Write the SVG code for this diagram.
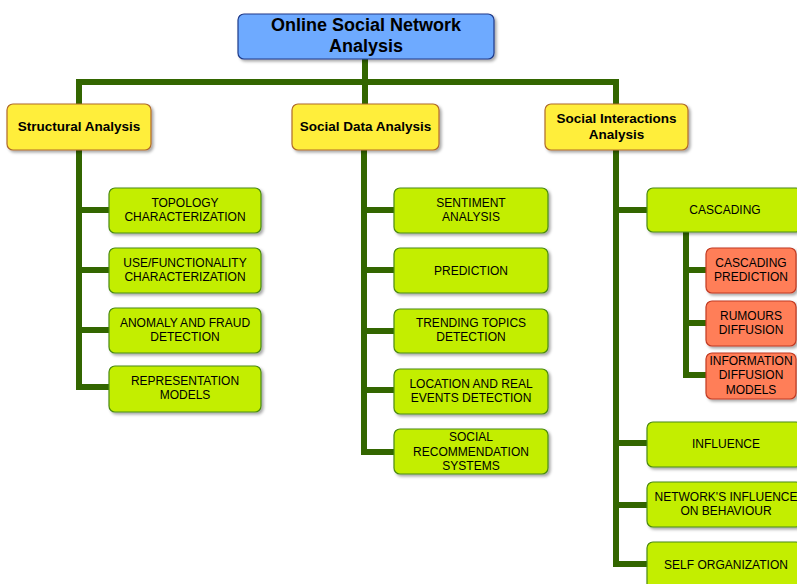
<svg xmlns="http://www.w3.org/2000/svg" width="797" height="584" viewBox="0 0 797 584">
<defs>
<filter id="sh" x="-10%" y="-10%" width="130%" height="140%">
<feDropShadow dx="2" dy="2" stdDeviation="1.5" flood-color="#000" flood-opacity="0.35"/>
</filter>
<style>
.ln{stroke:#336600;stroke-width:6;fill:none;stroke-linecap:butt}
.root{fill:#6eaaff;stroke:#1f3a8a;stroke-width:1.2;filter:url(#sh)}
.head{fill:#ffee3a;stroke:#b06a2a;stroke-width:1.2;filter:url(#sh)}
.leaf{fill:#c3ee00;stroke:#4a8a10;stroke-width:1.2;filter:url(#sh)}
.sub{fill:#ff7e58;stroke:#c23a22;stroke-width:1.2;filter:url(#sh)}
text{font-family:"Liberation Sans",Arial,sans-serif;text-anchor:middle;fill:#000}
.t1{font-size:18px;font-weight:bold}
.t2{font-size:13.5px;font-weight:bold}
.t3{font-size:12px}
</style>
</defs>
<rect width="797" height="584" fill="#fff"/>
<g id="connectors">
<path class="ln" d="M365 59V82M76 82H619M79 82V104M365 82V104M616 82V104"/>
<path class="ln" d="M79 150V390M79 210H109M79 270H109M79 330H109M79 387H109"/>
<path class="ln" d="M364 150V455M364 210H394M364 270H394M364 331H394M364 390H394M364 452H394"/>
<path class="ln" d="M616 150V567M616 210H647M616 443H647M616 505H647M616 564H647"/>
<path class="ln" d="M686 232V378M686 270H706M686 323H706M686 375H706"/>
</g>
<g id="root"><rect class="root" x="238" y="14" width="256" height="45" rx="6"/><text class="t1" x="366" y="31">Online Social Network</text><text class="t1" x="366" y="52">Analysis</text></g>
<g id="structural"><rect class="head" x="7" y="104" width="144" height="46" rx="6"/><text class="t2" x="79" y="131">Structural Analysis</text></g>
<g id="socialdata"><rect class="head" x="292" y="104" width="147" height="46" rx="6"/><text class="t2" x="365.5" y="131">Social Data Analysis</text></g>
<g id="socialinteractions"><rect class="head" x="545" y="104" width="143" height="46" rx="6"/><text class="t2" x="616.5" y="123">Social Interactions</text><text class="t2" x="616.5" y="138.5">Analysis</text></g>
<g id="topology"><rect class="leaf" x="109" y="188" width="152" height="45" rx="6"/><text class="t3" x="185" y="206.5">TOPOLOGY</text><text class="t3" x="185" y="220.5">CHARACTERIZATION</text></g>
<g id="usefunc"><rect class="leaf" x="109" y="248" width="152" height="45" rx="6"/><text class="t3" x="185" y="266.5">USE/FUNCTIONALITY</text><text class="t3" x="185" y="280.5">CHARACTERIZATION</text></g>
<g id="anomaly"><rect class="leaf" x="109" y="308" width="152" height="45" rx="6"/><text class="t3" x="185" y="326.5">ANOMALY AND FRAUD</text><text class="t3" x="185" y="340.5">DETECTION</text></g>
<g id="representation"><rect class="leaf" x="109" y="366" width="152" height="46" rx="6"/><text class="t3" x="185" y="384.5">REPRESENTATION</text><text class="t3" x="185" y="398.5">MODELS</text></g>
<g id="sentiment"><rect class="leaf" x="394" y="188" width="154" height="45" rx="6"/><text class="t3" x="471" y="206.5">SENTIMENT</text><text class="t3" x="471" y="220.5">ANALYSIS</text></g>
<g id="prediction"><rect class="leaf" x="394" y="248" width="154" height="45" rx="6"/><text class="t3" x="471" y="274.5">PREDICTION</text></g>
<g id="trending"><rect class="leaf" x="394" y="309" width="154" height="44" rx="6"/><text class="t3" x="471" y="327">TRENDING TOPICS</text><text class="t3" x="471" y="341">DETECTION</text></g>
<g id="location"><rect class="leaf" x="394" y="369" width="154" height="45" rx="6"/><text class="t3" x="471" y="387.5">LOCATION AND REAL</text><text class="t3" x="471" y="401.5">EVENTS DETECTION</text></g>
<g id="socialrec"><rect class="leaf" x="394" y="429" width="154" height="45" rx="6"/><text class="t3" x="471" y="441">SOCIAL</text><text class="t3" x="471" y="455.5">RECOMMENDATION</text><text class="t3" x="471" y="470">SYSTEMS</text></g>
<g id="cascading"><rect class="leaf" x="647" y="188" width="155" height="44" rx="6"/><text class="t3" x="725" y="214">CASCADING</text></g>
<g id="cascpred"><rect class="sub" x="706" y="248" width="90" height="45" rx="6"/><text class="t3" x="751" y="266.5">CASCADING</text><text class="t3" x="751" y="280.5">PREDICTION</text></g>
<g id="rumours"><rect class="sub" x="706" y="301" width="90" height="45" rx="6"/><text class="t3" x="751" y="319.5">RUMOURS</text><text class="t3" x="751" y="333.5">DIFFUSION</text></g>
<g id="infodiff"><rect class="sub" x="706" y="353" width="90" height="46" rx="6"/><text class="t3" x="751" y="364.5">INFORMATION</text><text class="t3" x="751" y="379">DIFFUSION</text><text class="t3" x="751" y="393.5">MODELS</text></g>
<g id="influence"><rect class="leaf" x="647" y="422" width="155" height="45" rx="6"/><text class="t3" x="726" y="447.5">INFLUENCE</text></g>
<g id="networkinf"><rect class="leaf" x="647" y="482" width="155" height="45" rx="6"/><text class="t3" x="726" y="500.5">NETWORK'S INFLUENCE</text><text class="t3" x="726" y="514.5">ON BEHAVIOUR</text></g>
<g id="selforg"><rect class="leaf" x="647" y="542" width="155" height="48" rx="6"/><text class="t3" x="726" y="568.5">SELF ORGANIZATION</text></g>
</svg>
